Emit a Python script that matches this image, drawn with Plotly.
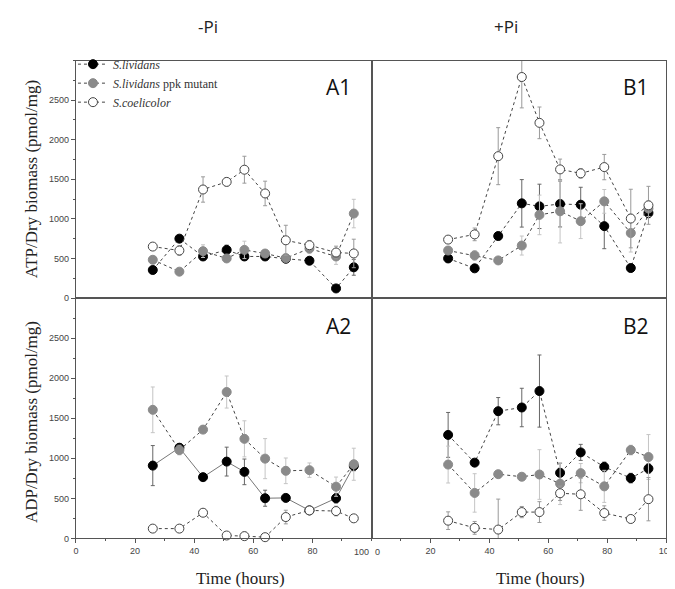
import plotly.graph_objects as go

times = [26, 35, 43, 51, 57, 64, 71, 79, 88, 94]
series_names = ["<i>S.lividans</i>", "<i>S.lividans</i> ppk mutant", "<i>S.coelicolor</i>"]
y_tick_values = [0, 500, 1000, 1500, 2000, 2500]
x_ticks_left = [0, 20, 40, 60, 80]
x_ticks_right = [20, 40, 60, 80, 100]

# A1: ATP, -Pi
a1_liv = [354, 750, 525, 608, 525, 525, 496, 471, 121, 388]
a1_liv_err = [40, 40, 40, 60, 50, 30, 30, 40, 20, 100]
a1_ppk = [483, 333, 592, 500, 608, 562, 504, 625, 525, 1067]
a1_ppk_err = [40, 30, 80, 40, 110, 40, 30, 60, 100, 180]
a1_coe = [650, 600, 1371, 1467, 1621, 1321, 729, 667, 575, 563]
a1_coe_err = [30, 60, 160, 50, 170, 155, 190, 60, 80, 180]

# B1: ATP, +Pi
b1_liv = [500, 375, 783, 1196, 1158, 1188, 1179, 908, 379, 1075]
b1_liv_err = [50, 20, 40, 300, 280, 290, 220, 285, 30, 60]
b1_ppk = [600, 538, 475, 663, 1050, 1096, 971, 1221, 821, 1130]
b1_ppk_err = [40, 60, 30, 120, 250, 400, 220, 150, 240, 100]
b1_coe = [738, 804, 1792, 2792, 2213, 1625, 1575, 1654, 1004, 1171]
b1_coe_err = [40, 80, 360, 390, 200, 130, 60, 160, 370, 240]

# A2: ADP, -Pi
a2_liv = [909, 1132, 765, 959, 831, 502, 506, 350, 502, 905]
a2_liv_err = [250, 50, 30, 180, 160, 100, 30, 40, 60, 60]
a2_ppk = [1605, 1103, 1358, 1827, 1243, 996, 844, 852, 646, 926]
a2_ppk_err = [285, 60, 40, 200, 225, 250, 160, 90, 120, 200]
a2_coe = [123, 123, 321, 37, 29, 16, 267, 350, 342, 251]
a2_coe_err = [30, 40, 30, 30, 50, 20, 85, 50, 60, 30]

# B2: ADP, +Pi
b2_liv = [1292, 946, 1588, 1634, 1839, 819, 1074, 893, 753, 872]
b2_liv_err = [280, 40, 170, 240, 450, 120, 100, 60, 60, 60]
b2_ppk = [922, 568, 802, 770, 798, 683, 815, 650, 1103, 1016]
b2_ppk_err = [230, 240, 40, 30, 310, 260, 120, 200, 60, 280]
b2_coe = [222, 132, 111, 329, 329, 564, 551, 317, 243, 490]
b2_coe_err = [110, 80, 380, 70, 130, 90, 200, 90, 40, 270]

panels = [
    ("x", "y", [a1_liv, a1_ppk, a1_coe], [a1_liv_err, a1_ppk_err, a1_coe_err], True, "dot"),
    ("x2", "y2", [b1_liv, b1_ppk, b1_coe], [b1_liv_err, b1_ppk_err, b1_coe_err], False, "dot"),
    ("x3", "y3", [a2_liv, a2_ppk, a2_coe], [a2_liv_err, a2_ppk_err, a2_coe_err], False, "solid"),
    ("x4", "y4", [b2_liv, b2_ppk, b2_coe], [b2_liv_err, b2_ppk_err, b2_coe_err], False, "dot"),
]

marker_styles = [
    dict(color="#000000", size=9, line=dict(color="#000000", width=1)),
    dict(color="#8a8a8a", size=9, line=dict(color="#8a8a8a", width=1)),
    dict(color="#ffffff", size=9, line=dict(color="#444444", width=1)),
]
err_colors = ["#666666", "#c4c4c4", "#9a9a9a"]

fig = go.Figure()
for xa, ya, vals, errs, showleg, first_dash in panels:
    for i in range(3):
        dash = first_dash if i == 0 else "dot"
        lc = "#777777" if (i == 0 and first_dash == "solid") else "#444444"
        fig.add_trace(go.Scatter(
            x=times, y=vals[i], xaxis=xa, yaxis=ya,
            mode="lines+markers",
            name=series_names[i], showlegend=showleg,
            line=dict(color=lc, width=1, dash=dash),
            marker=marker_styles[i],
            error_y=dict(type="data", array=errs[i], color=err_colors[i], thickness=1, width=2),
            cliponaxis=False,
        ))

W, H = 675, 589
def px_x(a, b):
    return [a / W, b / W]
def px_y(top, bottom):
    return [1 - bottom / H, 1 - top / H]

tickfont = dict(family="Liberation Sans, Arial", size=9, color="#444")
axcommon = dict(range=[0, 100], showgrid=False, zeroline=False, showline=True,
                linecolor="#555", linewidth=1, mirror=True)
ycommon = dict(range=[0, 3000], showgrid=False, zeroline=False, showline=True,
               linecolor="#555", linewidth=1, mirror=True)

xl = px_x(66, 366.5)
xr = px_x(366.5, 666)
yt = px_y(53, 292.5)
yb = px_y(292.5, 535)

def xtick_bottom(vals):
    return dict(ticks="outside", ticklen=4, tickcolor="#555", tickvals=vals,
                showticklabels=True, tickfont=tickfont,
                minor=dict(ticks="outside", ticklen=2, dtick=10, tickcolor="#555"))
ytick_left = dict(ticks="outside", ticklen=4, tickcolor="#555", tickvals=y_tick_values,
                  showticklabels=True, tickfont=tickfont,
                  minor=dict(ticks="outside", ticklen=2, dtick=250, tickcolor="#555"))

fig.update_layout(
    width=W, height=H,
    margin=dict(l=0, r=0, t=0, b=0),
    paper_bgcolor="white", plot_bgcolor="white",
    showlegend=True,
    legend=dict(x=63 / W, y=1 - 42 / H, xanchor="left", yanchor="top",
                font=dict(family="Liberation Serif, Times New Roman", size=12, color="#333"),
                bgcolor="rgba(0,0,0,0)", itemwidth=30, tracegroupgap=0),
    xaxis=dict(domain=xl, anchor="y", showticklabels=False, ticks="", **axcommon),
    yaxis=dict(domain=yt, anchor="x", **ytick_left, **ycommon),
    xaxis2=dict(domain=xr, anchor="y2", showticklabels=False, ticks="", **axcommon),
    yaxis2=dict(domain=yt, anchor="x2", showticklabels=False, ticks="", **ycommon),
    xaxis3=dict(domain=xl, anchor="y3", **xtick_bottom(x_ticks_left), **axcommon),
    yaxis3=dict(domain=yb, anchor="x3", **ytick_left, **ycommon),
    xaxis4=dict(domain=xr, anchor="y4", **xtick_bottom(x_ticks_right), **axcommon),
    yaxis4=dict(domain=yb, anchor="x4", showticklabels=False, ticks="", **ycommon),
)

serif = "Liberation Serif, Times New Roman"
sans = "Open Sans, DejaVu Sans"
annots = [
    dict(text="-Pi", x=200 / W, y=1 - 19 / H, font=dict(family=sans, size=17, color="#222")),
    dict(text="+Pi", x=503 / W, y=1 - 19 / H, font=dict(family=sans, size=17, color="#222")),
    dict(text="A1", x=333 / W, y=1 - 80 / H, font=dict(family=sans, size=21, color="#111")),
    dict(text="B1", x=635 / W, y=1 - 80 / H, font=dict(family=sans, size=21, color="#111")),
    dict(text="A2", x=333 / W, y=1 - 321 / H, font=dict(family=sans, size=21, color="#111")),
    dict(text="B2", x=635 / W, y=1 - 321 / H, font=dict(family=sans, size=21, color="#111")),
    dict(text="Time (hours)", x=233 / W, y=1 - 575 / H, font=dict(family=serif, size=17, color="#222")),
    dict(text="Time (hours)", x=538 / W, y=1 - 575 / H, font=dict(family=serif, size=17, color="#222")),
    dict(text="ATP/Dry biomass (pmol/mg)", x=21 / W, y=1 - 173 / H, textangle=-90,
         font=dict(family=serif, size=17, color="#222")),
    dict(text="ADP/Dry biomass (pmol/mg)", x=21 / W, y=1 - 418 / H, textangle=-90,
         font=dict(family=serif, size=17, color="#222")),
]
for a in annots:
    fig.add_annotation(xref="paper", yref="paper", showarrow=False,
                       xanchor="center", yanchor="middle", **a)

# tick labels at the shared boundary (100 of left panel, 0 of right panel)
fig.add_annotation(xref="x3", yref="paper", x=100, y=1 - 549 / H, text="100", showarrow=False,
                   xanchor="right", yanchor="middle", xshift=-1, font=tickfont)
fig.add_annotation(xref="x4", yref="paper", x=0, y=1 - 549 / H, text="0", showarrow=False,
                   xanchor="left", yanchor="middle", xshift=1, font=tickfont)

fig.write_html("out.html")
